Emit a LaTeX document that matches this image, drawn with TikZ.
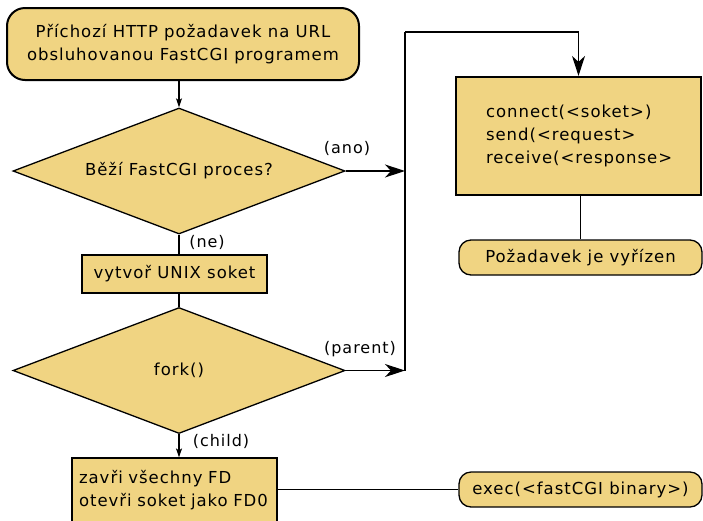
\documentclass[tikz,border=0pt]{standalone}
\usepackage{fontspec}
\setmainfont[LetterSpace=6]{DejaVu Sans}
\usetikzlibrary{shapes.geometric,arrows.meta}
\definecolor{boxfill}{HTML}{F0D482}
\tikzset{
  base/.style={fill=boxfill, draw=black, inner sep=0pt, font=\fontsize{16.5}{23}\selectfont},
  roundbox/.style={base, rounded corners=18pt, line width=2pt},
  pillbox/.style={base, rounded corners=12pt, line width=1.3pt},
  thickbox/.style={base, line width=2.2pt},
  thinbox/.style={base, line width=1.2pt},
  decision/.style={base, diamond, aspect=2.63, line width=1.3pt},
  lbl/.style={font=\fontsize{16}{18}\selectfont, inner sep=0pt},
  conn/.style={line width=1.2pt},
  bigarrow/.style={conn, -{Stealth[length=20pt, width=13pt, inset=6pt]}},
  smallarrow/.style={conn, -{Stealth[length=9pt, width=6pt, inset=2pt]}}
}
\begin{document}
\begin{tikzpicture}[x=1pt,y=-1pt]
\useasboundingbox (0,0) rectangle (703,520);

\node[roundbox, minimum width=352pt, minimum height=72pt, align=center] (start) at (183,44)
  {Příchozí HTTP požadavek na URL\\obsluhovanou FastCGI programem};
\node[decision, minimum width=332pt, minimum height=126pt] (d1) at (179,171) {Běží FastCGI proces?};
\node[thinbox, minimum width=185pt, minimum height=38pt] (sock) at (174.5,274) {vytvoř UNIX soket};
\node[decision, minimum width=332pt, minimum height=126pt] (d2) at (179,370.5) {fork()};
\node[thinbox, minimum width=205pt, minimum height=64pt, align=left, text width=191pt] (close) at (174.5,490)
  {zavři všechny FD\\otevři soket jako FD0};

\node[thickbox, minimum width=245pt, minimum height=118pt, align=left, text width=185pt] (connbox) at (578.5,136)
  {connect(<soket>)\\send(<request>\\receive(<response>};
\node[pillbox, minimum width=243pt, minimum height=35pt] (done) at (580.5,257.5) {Požadavek je vyřízen};
\node[pillbox, minimum width=243pt, minimum height=35pt] (exec) at (580.5,489.5) {exec(<fastCGI binary>)};

\coordinate (top) at (405,32);
\coordinate (j1) at (405,171);
\coordinate (j2) at (405,370.5);

\node[lbl] (ano) at (347,148) {(ano)};
\node[lbl] (ne) at (207,242) {(ne)};
\node[lbl] (parent) at (360,349) {(parent)};
\node[lbl] (child) at (221,441) {(child)};

\draw[smallarrow] (start.south -| d1.north) -- (d1.north);
\draw[bigarrow] (d1.east) -- (j1);
\draw[conn] (j2) -- (top);
\draw[bigarrow] (top) -| (connbox.north);
\draw[conn] (d1.south) -- (d1.south |- sock.north);
\draw[conn] (d2.north |- sock.south) -- (d2.north);
\draw[bigarrow] (d2.east) -- (j2);
\draw[smallarrow] (d2.south) -- (d2.south |- close.north);
\draw[conn] (connbox.south -| done.north) -- (done.north);
\draw[conn] (close.east |- exec.west) -- (exec.west);
\end{tikzpicture}
\end{document}
